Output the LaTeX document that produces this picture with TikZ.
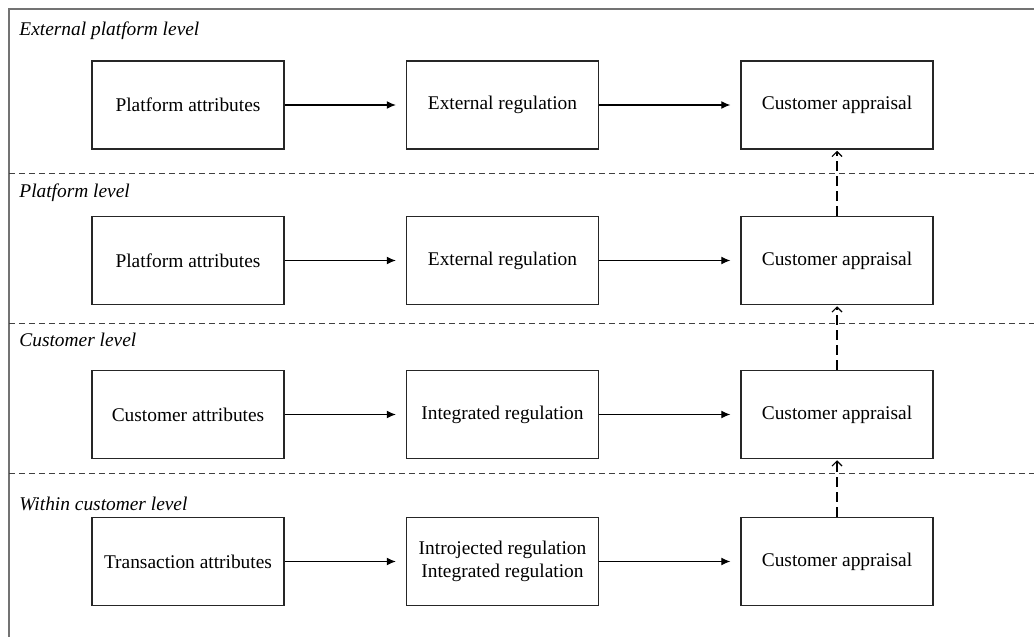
\documentclass[tikz,border=0pt]{standalone}
\usepackage{fontspec}
\setmainfont{Liberation Serif}
\usetikzlibrary{arrows.meta}

\begin{document}
\begin{tikzpicture}[x=0.5pt,y=-0.5pt,
  box/.style={draw=black!85,line width=0.75pt,minimum width=96pt,minimum height=44pt,
    inner sep=0pt,align=center,font=\fontsize{9.7}{11.5}\selectfont},
  lvl/.style={anchor=base west,inner sep=0pt,font=\fontsize{9.7}{11.5}\selectfont\itshape},
  flow/.style={-{Latex[length=4.5pt,width=4pt]},line width=0.55pt,shorten >=5pt},
  up/.style={-{Straight Barb[length=2.5pt,width=5pt]},line width=0.55pt,
    dash pattern=on 5pt off 2.5pt,shorten >=0.5pt},
  sep/.style={black!75,line width=0.5pt,dash pattern=on 3pt off 2pt}]
  \useasboundingbox (0,0) rectangle (1034,637);

  % frame
  \coordinate (fb) at (9,637);
  \coordinate (fc) at (9,9);
  \coordinate (fr) at (1034,9);
  \draw[black!55,line width=1pt] (fb) -- (fc) -- (fr);

  % level separators
  \coordinate (s1l) at (9,173);  \coordinate (s1r) at (1034,173);
  \coordinate (s2l) at (9,323);  \coordinate (s2r) at (1034,323);
  \coordinate (s3l) at (9,473);  \coordinate (s3r) at (1034,473);
  \draw[sep] (s1l) -- (s1r);
  \draw[sep] (s2l) -- (s2r);
  \draw[sep] (s3l) -- (s3r);

  \node[lvl] (l1) at (19,35){External platform level};
  \node[lvl] (l2) at (19,197){Platform level};
  \node[lvl] (l3) at (19,346){Customer level};
  \node[lvl] (l4) at (19,510){Within customer level};

  \node[box] (a1) at (188,105){Platform attributes};
  \node[box] (r1) at (502.5,105){External regulation};
  \node[box] (c1) at (837,105){Customer appraisal};

  \node[box] (a2) at (188,260.5){Platform attributes};
  \node[box] (r2) at (502.5,260.5){External regulation};
  \node[box] (c2) at (837,260.5){Customer appraisal};

  \node[box] (a3) at (188,414.5){Customer attributes};
  \node[box] (r3) at (502.5,414.5){Integrated regulation};
  \node[box] (c3) at (837,414.5){Customer appraisal};

  \node[box] (a4) at (188,561.5){Transaction attributes};
  \node[box] (r4) at (502.5,561.5){Introjected regulation\\Integrated regulation};
  \node[box] (c4) at (837,561.5){Customer appraisal};

  \draw[flow] (a1) -- (r1);
  \draw[flow] (r1) -- (c1);
  \draw[flow] (a2) -- (r2);
  \draw[flow] (r2) -- (c2);
  \draw[flow] (a3) -- (r3);
  \draw[flow] (r3) -- (c3);
  \draw[flow] (a4) -- (r4);
  \draw[flow] (r4) -- (c4);

  \draw[up] (c2) -- (c1);
  \draw[up] (c3) -- (c2);
  \draw[up] (c4) -- (c3);
\end{tikzpicture}
\end{document}
